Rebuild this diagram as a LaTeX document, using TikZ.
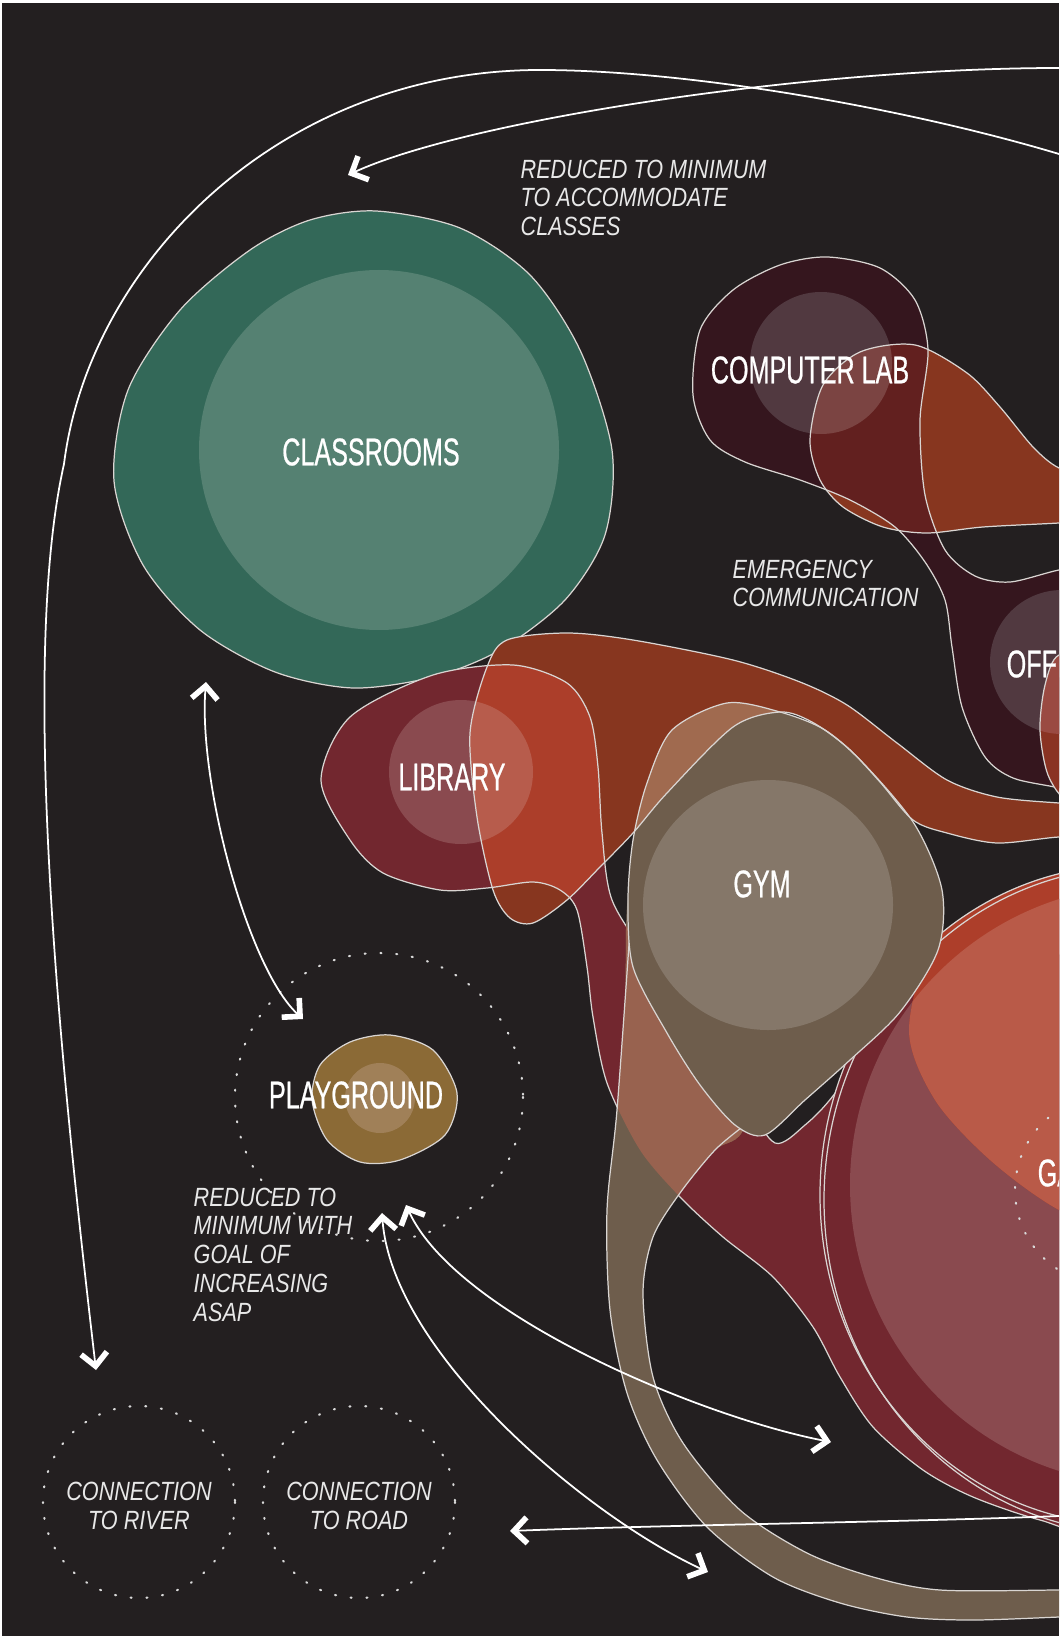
\documentclass[tikz,border=0pt]{standalone}
\usepackage{fontspec}
\usepackage{tikz}
\usetikzlibrary{arrows.meta}
\newfontfamily\labelfont[FakeStretch=0.65,FakeBold=0.6]{Liberation Sans}
\newfontfamily\notefont[FakeStretch=0.82]{Liberation Sans}
\definecolor{bgdark}{HTML}{231F20}
\definecolor{classout}{HTML}{336858}
\definecolor{classin}{HTML}{558172}
\definecolor{maroonc}{HTML}{72272F}
\definecolor{marooninner}{HTML}{8A4A4F}
\definecolor{glowred}{HTML}{AD3E2A}
\definecolor{glowlight}{HTML}{B95A48}
\definecolor{rust}{HTML}{87361F}
\definecolor{rustbright}{HTML}{AC3E2A}
\definecolor{rustbrightin}{HTML}{B75C4C}
\definecolor{tan}{HTML}{6E5D4C}
\definecolor{tanpink}{HTML}{98624F}
\definecolor{tanrust}{HTML}{A06A4F}
\definecolor{taninner}{HTML}{857769}
\definecolor{labdark}{HTML}{35161E}
\definecolor{labinner}{HTML}{513940}
\definecolor{rustdark}{HTML}{62201F}
\definecolor{rustlabin}{HTML}{7B4442}
\definecolor{admin}{HTML}{8A3323}
\definecolor{adminin}{HTML}{9A4A42}
\definecolor{play}{HTML}{8B6A36}
\definecolor{playin}{HTML}{A08058}
\definecolor{rimgray}{HTML}{D9D5D2}
\definecolor{notewhite}{HTML}{E8E8E8}
\tikzset{
  rim/.style={draw=rimgray,line width=0.35pt},
  ar/.style={-{Straight Barb[length=1.3mm,width=2.6mm,line width=1.6pt]},white,line width=0.5pt},
  arboth/.style={{Straight Barb[length=1.3mm,width=2.6mm,line width=1.6pt]}-{Straight Barb[length=1.3mm,width=2.6mm,line width=1.6pt]},white,line width=0.5pt},
  dotring/.style={draw=white!85!black,line width=0.6pt,line cap=round,dash pattern=on 0.3pt off 4.2pt},
  roomlabel/.style={text=white,font=\labelfont\fontsize{11}{13}\selectfont,inner sep=0pt},
  notelabel/.style={text=notewhite,font=\notefont\itshape\fontsize{7.5}{8.2}\selectfont,inner sep=0pt,align=left}
}
\begin{document}
\begin{tikzpicture}[x=0.1mm,y=-0.1mm]
\useasboundingbox (0,0) rectangle (1059,1639);
\clip (0,0) rectangle (1059,1639);
\fill[white] (0,0) rectangle (1059,1639);
\fill[bgdark] (2,3) rectangle (1059,1636);

\path[save path=\pClass] plot[smooth cycle] coordinates {(376,211) (460,228) (530,275) (580,350) (612,450) (605,535) (565,600) (500,650) (433,677) (353,688) (275,672) (200,630) (143,565) (114,481) (128,390) (180,310) (250,250) (310,220)};
\path[save path=\pMaroon] plot[smooth cycle] coordinates {(321,780) (350,717) (433,675) (513,665) (567,683) (590,717) (598,767) (602,833) (612,900) (650,960) (710,1040) (745,1100) (775,1143) (805,1125) (836,1092) (900,1000) (1050,950) (1150,1100) (1150,1450) (1100,1530) (1040,1520) (973,1497) (923,1470) (873,1427) (840,1377) (813,1327) (773,1277) (723,1237) (680,1197) (640,1150) (607,1083) (593,1017) (587,967) (577,910) (560,890) (533,882) (487,888) (440,890) (383,873) (350,840)};
\path[save path=\pRust] plot[smooth cycle] coordinates {(487,667) (507,640) (567,633) (633,640) (733,660) (800,682) (847,705) (897,743) (947,780) (997,797) (1059,803) (1100,805) (1100,838) (1059,837) (997,843) (947,833) (913,820) (880,782) (848,748) (812,722) (780,712) (733,727) (667,793) (633,833) (600,867) (567,900) (533,923) (510,918) (493,890) (477,817) (470,733)};
\path[save path=\pBand] plot[smooth cycle] coordinates {(633,880) (625,1000) (617,1110) (607,1210) (610,1310) (627,1393) (657,1460) (707,1527) (773,1577) (840,1603) (907,1617) (973,1620) (1059,1617) (1100,1615) (1100,1590) (1059,1590) (940,1590) (873,1577) (807,1553) (740,1510) (683,1443) (653,1377) (643,1293) (653,1237) (680,1193) (715,1150) (745,1125) (760,1000) (700,920)};
\path[save path=\pGym] plot[smooth cycle] coordinates {(727,703) (780,712) (825,730) (865,765) (915,825) (942,890) (938,950) (900,1012) (850,1060) (805,1100) (765,1135) (735,1125) (700,1085) (667,1033) (633,967) (628,900) (633,840) (647,783) (672,730)};
\path[save path=\pLab] plot[smooth cycle] coordinates {(827,257) (880,268) (915,300) (928,350) (920,420) (925,495) (945,550) (975,576) (1010,582) (1059,570) (1100,565) (1100,800) (1059,788) (1013,778) (985,757) (962,707) (952,647) (945,600) (925,562) (895,527) (850,500) (800,480) (745,462) (710,440) (693,395) (700,330) (733,290) (780,265)};
\path[save path=\pOrng] plot[smooth cycle] coordinates {(820,480) (810,440) (823,385) (860,352) (915,345) (967,373) (1000,407) (1033,447) (1059,468) (1100,480) (1100,520) (1059,523) (983,527) (927,533) (883,527) (843,507)};
\path[save path=\pGlow] plot[smooth cycle] coordinates {(990,870) (935,930) (909,1030) (935,1100) (990,1160) (1059,1210) (1140,1240) (1220,1000) (1100,850)};
\path[save path=\pAdmin] plot[smooth cycle] coordinates {(1059,655) (1045,685) (1040,730) (1048,775) (1068,800) (1100,780) (1100,660)};
\path[save path=\pPlay] plot[smooth cycle] coordinates {(390,1035) (433,1050) (457,1093) (445,1135) (400,1160) (360,1162) (327,1140) (312,1100) (320,1065) (350,1042)};

\fill[classout,use path=\pClass];
\draw[rim,use path=\pClass];
\fill[classin] (379,450) circle (180);

\fill[maroonc,use path=\pMaroon];
\draw[rim,use path=\pMaroon];
\fill[marooninner] (461,772) circle (72);

\fill[maroonc] (1130,1195) ellipse (310 and 330);
\fill[marooninner] (1150,1185) circle (300);
\begin{scope}
\clip (1130,1195) ellipse (310 and 330);
\fill[glowred,use path=\pGlow];
\clip (1150,1185) circle (300);
\fill[glowlight,use path=\pGlow];
\end{scope}
\draw[rim] (1130,1195) ellipse (310 and 330);
\draw[rim] (1137,1200) ellipse (313 and 333);
\draw[dotring] (1110,1190) circle (95);

\fill[rust,use path=\pRust];
\begin{scope}
\clip[use path=\pRust];
\fill[rustbright,use path=\pMaroon];
\fill[rustbrightin] (461,772) circle (72);
\draw[rim,use path=\pMaroon];
\end{scope}
\draw[rim,use path=\pRust];

\fill[tan,use path=\pBand];
\begin{scope}
\clip[use path=\pMaroon];
\fill[tanpink,use path=\pBand];
\end{scope}
\draw[rim] plot[smooth] coordinates {(630,930) (617,1110) (607,1210) (610,1310) (627,1393) (657,1460) (707,1527) (773,1577) (840,1603) (907,1617) (973,1620) (1059,1617) (1100,1615)};
\draw[rim] plot[smooth] coordinates {(1100,1590) (1059,1590) (940,1590) (873,1577) (807,1553) (740,1510) (683,1443) (653,1377) (643,1293) (653,1237) (680,1193) (715,1150) (745,1125)};

\fill[tan,use path=\pGym];
\begin{scope}
\clip[use path=\pGym];
\fill[tanrust,use path=\pRust];
\draw[rim,use path=\pRust];
\end{scope}
\draw[rim,use path=\pGym];
\fill[taninner] (768,905) circle (125);

\fill[labdark,use path=\pLab];
\draw[rim,use path=\pLab];
\fill[labinner] (821,363) circle (71);
\fill[labinner] (1062,662) circle (72);

\fill[rust,use path=\pOrng];
\begin{scope}
\clip[use path=\pOrng];
\fill[rustdark,use path=\pLab];
\fill[rustlabin] (821,363) circle (71);
\draw[rim,use path=\pLab];
\end{scope}
\draw[rim,use path=\pOrng];

\fill[admin,use path=\pAdmin];
\begin{scope}
\clip[use path=\pAdmin];
\fill[adminin] (1062,662) circle (72);
\end{scope}
\draw[rim,use path=\pAdmin];

\fill[play,use path=\pPlay];
\draw[rim,use path=\pPlay];
\fill[playin] (380,1098) circle (35);
\draw[dotring] (379,1097) circle (144);
\draw[dotring] (139,1502) circle (96);
\draw[dotring] (359,1502) circle (96);

\node[roomlabel] (classrooms) at (371,452) {CLASSROOMS};
\node[roomlabel] (complab) at (810,370) {COMPUTER LAB};
\node[roomlabel] (library) at (452,777) {LIBRARY};
\node[roomlabel] (gym) at (762,884) {GYM};
\node[roomlabel] (playground) at (356,1095) {PLAYGROUND};
\node[roomlabel,anchor=west] (office) at (1006,664) {OFFICE};
\node[roomlabel,anchor=west] (garden) at (1037,1173) {GA};

\node[notelabel,anchor=north west] (noteClasses) at (520,159) {REDUCED TO MINIMUM\\TO ACCOMMODATE\\CLASSES};
\node[notelabel,anchor=north west] (noteEmergency) at (732,559) {EMERGENCY\\COMMUNICATION};
\node[notelabel,anchor=north west] (notePlay) at (193,1187) {REDUCED TO\\MINIMUM WITH\\GOAL OF\\INCREASING\\ASAP};
\node[notelabel,align=center] (river) at (139,1506) {CONNECTION\\TO RIVER};
\node[notelabel,align=center] (road) at (359,1506) {CONNECTION\\TO ROAD};

\coordinate (arcAstart) at (1059,154);
\coordinate (arcApeak) at (540,70);
\coordinate (arcAside) at (64,464);
\coordinate (riverArrow) at (96,1370);
\coordinate (arcBstart) at (1059,68);
\coordinate (classArrow) at (348,175);
\coordinate (classLow) at (206,682);
\coordinate (playTop) at (303,1019);
\coordinate (playLowA) at (382,1213);
\coordinate (playLowB) at (406,1205);
\coordinate (bandArrow) at (708,1572);
\coordinate (hallArrow) at (831,1442);
\coordinate (edgeLow) at (1059,1516);
\coordinate (roadArrow) at (510,1531);

\draw[ar] (arcAstart) .. controls +(-150,-45) and +(150,0) .. (arcApeak) .. controls +(-260,0) and +(25,-200) .. (arcAside) .. controls +(-45,200) and +(-35,-300) .. (riverArrow);
\draw[ar] (arcBstart) .. controls +(-250,0) and +(120,-55) .. (classArrow);
\draw[arboth] (classLow) .. controls +(-8,100) and +(-55,-50) .. (playTop);
\draw[arboth] (playLowA) .. controls +(10,140) and +(-120,-55) .. (bandArrow);
\draw[arboth] (playLowB) .. controls +(50,110) and +(-130,-25) .. (hallArrow);
\draw[ar] (edgeLow) .. controls +(-150,6) and +(150,-6) .. (roadArrow);
\end{tikzpicture}
\end{document}
